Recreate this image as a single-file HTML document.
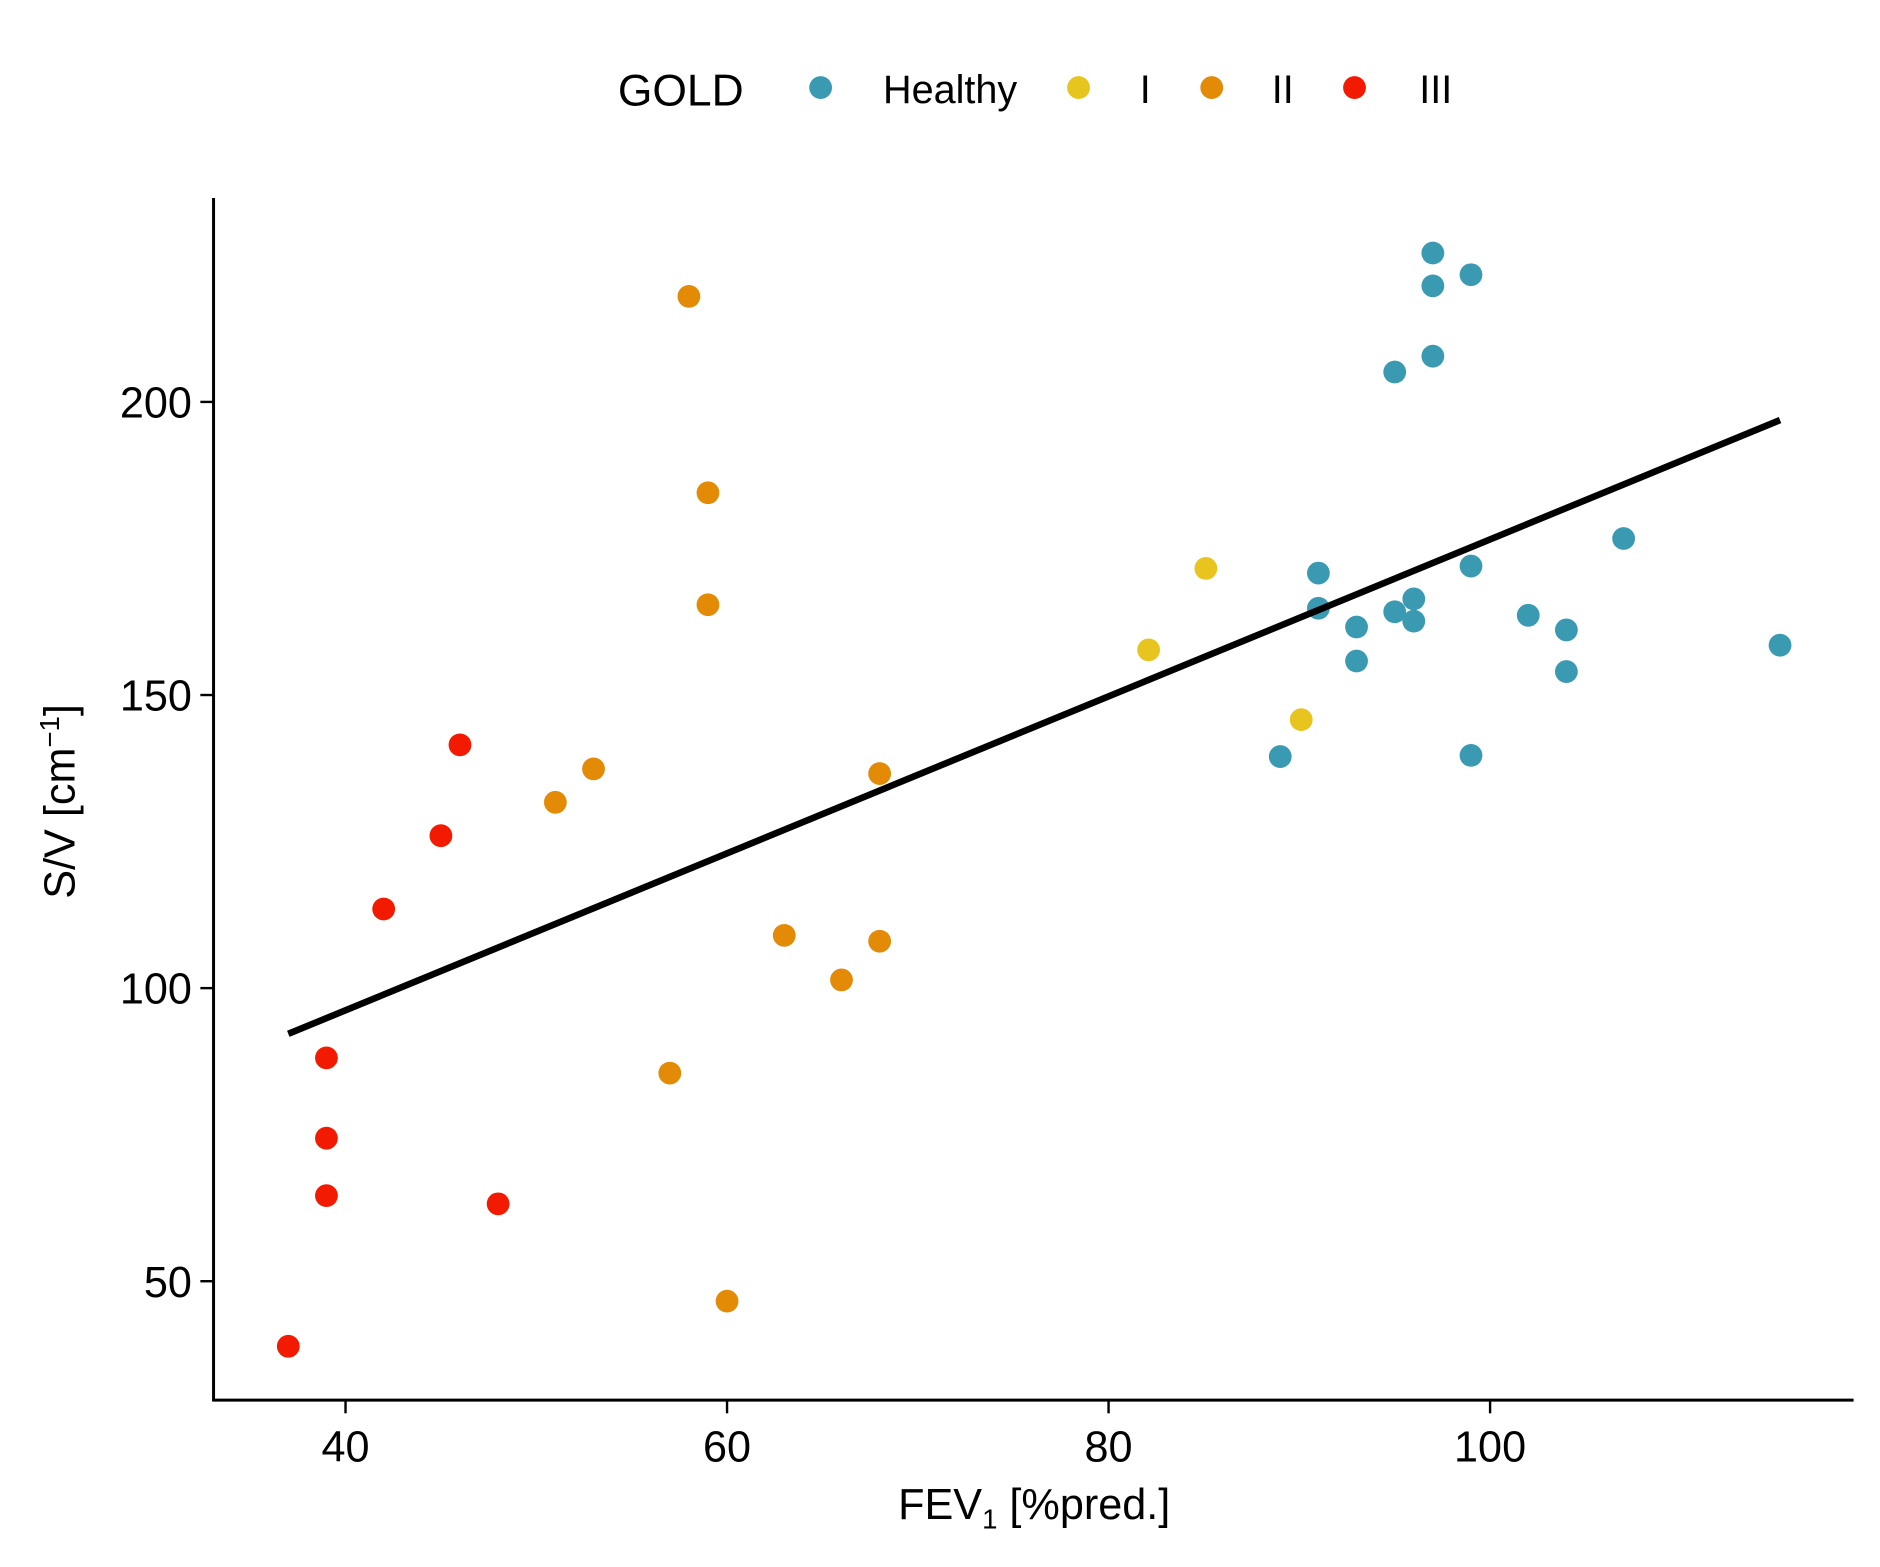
<!DOCTYPE html>
<html><head><meta charset="utf-8"><style>
html,body{margin:0;padding:0;background:#fff}
svg{display:block;font-family:"Liberation Sans",Arial,sans-serif}
</style></head><body>
<svg id="chart" width="1880" height="1567" viewBox="0 0 1567 1306.1" preserveAspectRatio="none" xmlns="http://www.w3.org/2000/svg">
<rect width="1567" height="1307" fill="#fff"/>
<g id="legend">
<text x="515" y="88" font-size="37">GOLD</text>
</g>
<g id="axes"></g>
<g id="marks"></g>
<text x="62" y="668" font-size="36" text-anchor="middle" transform="rotate(-90 62 668)">S/V [cm<tspan dy="-13" font-size="23">−1</tspan><tspan dy="13">]</tspan></text>
<text x="862" y="1266" font-size="36" text-anchor="middle">FEV<tspan dy="8" font-size="23">1</tspan><tspan dy="-8"> [%pred.]</tspan></text>
</svg>
<script>
const groups = ["Healthy","I","II","III"];
const colors = ["#3a9ab2","#e8c51e","#e38a06","#f21a00"];
const healthyX = [97,97,99,97,95,107,99,91,91,96,95,96,93,102,104,115.2,93,104,89,99];
const healthyY = [225.4,219.8,221.7,207.8,205.1,176.7,172,170.8,164.8,166.4,164.2,162.6,161.6,163.6,161.1,158.5,155.8,154,139.5,139.7];
const goldIX = [85.1,82.1,90.1];
const goldIY = [171.6,157.7,145.8];
const goldIIX = [58,59,59,53,51,68,63,68,66,57,60];
const goldIIY = [218,184.5,165.4,137.4,131.7,136.6,109,108,101.4,85.5,46.6];
const goldIIIX = [46,45,42,39,39,39,48,37];
const goldIIIY = [141.5,126,113.5,88.1,74.4,64.6,63.2,38.9];
const fitX = [37,115.2];
const fitY = [92.2,196.9];
const xTicks = [40,60,80,100];
const yTicks = [50,100,150,200];

const NS="http://www.w3.org/2000/svg";
const xs = v => 288 + (v-40)*15.9;
const ys = v => 335 + (200-v)*4.886;
function mk(tag, attrs, parent){const e=document.createElementNS(NS,tag);for(const k in attrs)e.setAttribute(k,attrs[k]);parent.appendChild(e);return e;}
const axes=document.getElementById('axes'), marks=document.getElementById('marks'), legend=document.getElementById('legend');

let a=mk('line',{x1:178,y1:165,x2:178,y2:1168,stroke:'#000','stroke-width':2.5},axes);


a=mk('line',{x1:177,y1:1167,x2:1545,y2:1167,stroke:'#000','stroke-width':2.5},axes);


xTicks.forEach(t=>{
  const l=mk('line',{x1:xs(t),y1:1167,x2:xs(t),y2:1178,stroke:'#000','stroke-width':2},axes);
  
  
  const tx=mk('text',{x:xs(t),y:1218,'font-size':36,'text-anchor':'middle'},axes);
  tx.textContent=t;
  
  
});
yTicks.forEach(t=>{
  const l=mk('line',{x1:167,y1:ys(t),x2:178,y2:ys(t),stroke:'#000','stroke-width':2},axes);
  
  
  const tx=mk('text',{x:160,y:ys(t)+13,'font-size':36,'text-anchor':'end'},axes);
  tx.textContent=t;
  
  
});
const series=[[healthyX,healthyY],[goldIX,goldIY],[goldIIX,goldIIY],[goldIIIX,goldIIIY]];
series.forEach((s,gi)=>{
  s[0].forEach((xv,i)=>{
    const c=mk('circle',{cx:xs(xv),cy:ys(s[1][i]),r:9.5,fill:colors[gi]},marks);
    
    
  });
});
const fl=mk('line',{x1:xs(fitX[0]),y1:ys(fitY[0]),x2:xs(fitX[1]),y2:ys(fitY[1]),stroke:'#000','stroke-width':5.5},marks);


const lx=[684,899,1010,1129], tx=[736,950,1060,1183];
groups.forEach((g,i)=>{
  const c=mk('circle',{cx:lx[i],cy:73,r:9.5,fill:colors[i]},legend);
  
  
  const t=mk('text',{x:tx[i],y:86,'font-size':33},legend);
  t.textContent=g;
  
  
});
</script>
</body></html>
